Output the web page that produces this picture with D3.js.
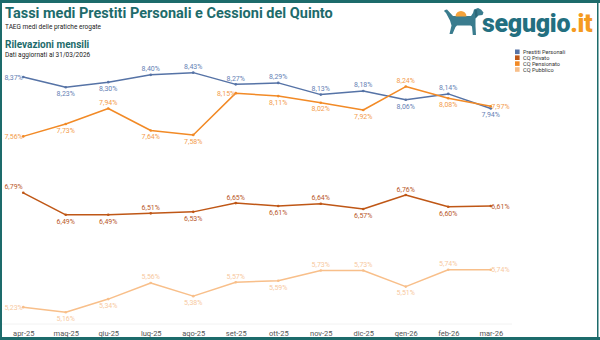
<!DOCTYPE html>
<html>
<head>
<meta charset="utf-8">
<script src="https://d3js.org/d3.v7.min.js"></script>
<style>
  body { margin: 0; background: #fff; }
  svg { display: block; font-family: Roboto, "Noto Sans", sans-serif; }
</style>
</head>
<body>
<svg id="chart" width="600" height="340"></svg>
<script>
// monthly averages (TAEG %)
const months = ['apr-25','mag-25','giu-25','lug-25','ago-25','set-25','ott-25','nov-25','dic-25','gen-26','feb-26','mar-26'];
const prestitiPersonali = [8.37, 8.23, 8.30, 8.40, 8.43, 8.27, 8.29, 8.13, 8.18, 8.06, 8.14, 7.94];
const cqPrivato = [6.79, 6.49, 6.49, 6.51, 6.53, 6.65, 6.61, 6.64, 6.57, 6.76, 6.60, 6.61];
const cqPensionato = [7.56, 7.73, 7.94, 7.64, 7.58, 8.15, 8.11, 8.02, 7.92, 8.24, 8.08, 7.97];
const cqPubblico = [5.23, 5.16, 5.34, 5.56, 5.38, 5.57, 5.59, 5.73, 5.73, 5.51, 5.74, 5.74];
const seriesNames = ['Prestiti Personali', 'CQ Privato', 'CQ Pensionato', 'CQ Pubblico'];

// where each value label sits: l = left, r = right, a = above, b = below, al = above-left
const labelPlace = {
  'Prestiti Personali': ['l','b','b','a','a','a','a','a','a','b','a','b'],
  'CQ Privato':         ['al','b','b','a','b','a','b','a','b','a','b','r'],
  'CQ Pensionato':      ['l','b','a','b','b','l','b','b','b','a','b','r'],
  'CQ Pubblico':        ['l','b','b','a','b','a','b','a','a','b','a','r']
};

const lineColor = {
  'Prestiti Personali': '#5673a6',
  'CQ Privato': '#bf5716',
  'CQ Pensionato': '#f28a26',
  'CQ Pubblico': '#f8bf8a'
};
const textColor = {
  'Prestiti Personali': '#6682b5',
  'CQ Privato': '#b9582a',
  'CQ Pensionato': '#f39c4c',
  'CQ Pubblico': '#f7c9a0'
};

const series = [
  { name: 'Prestiti Personali', values: prestitiPersonali },
  { name: 'CQ Privato', values: cqPrivato },
  { name: 'CQ Pensionato', values: cqPensionato },
  { name: 'CQ Pubblico', values: cqPubblico }
];

const svg = d3.select('#chart');
const teal = '#1d6b6b';

svg.append('rect').attr('width', 600).attr('height', 340).attr('fill', '#fff');

// header
svg.append('text').attr('x', 5).attr('y', 18)
  .attr('font-size', 14.5).attr('font-weight', 700).attr('fill', teal)
  .text('Tassi medi Prestiti Personali e Cessioni del Quinto');
svg.append('text').attr('x', 5).attr('y', 28.5)
  .attr('font-size', 6.5).attr('fill', '#222')
  .text('TAEG medi delle pratiche erogate');
svg.append('text').attr('x', 5).attr('y', 48)
  .attr('font-size', 10).attr('font-weight', 700).attr('fill', teal)
  .text('Rilevazioni mensili');
svg.append('text').attr('x', 5).attr('y', 56.5)
  .attr('font-size', 6.5).attr('fill', '#222')
  .text('Dati aggiornati al 31/03/2026');

// logo
const logo = svg.append('g').attr('transform', 'translate(444,8)');
logo.append('path').attr('fill', '#3a7c8e')
  .attr('d', 'M1,2 L3,1.5 L9,8 L27,8 L29,5 L30,1.5 L34,0 L37,1.5 L39.5,4.5 L38.5,7 L34.5,7.5 L31.5,10.5 L31.5,18 L32,27 L28.8,27 L28,18.5 L26.5,17.5 L13,17.5 L11.5,19 L8.5,26 L5.5,26 L7.5,17.5 L6,12.5 L2,5 L0,3 Z');
logo.append('path').attr('fill', '#2b6778')
  .attr('d', 'M30.5,2 L33,2 L33.5,7.5 L31.5,10 Z');
logo.append('path').attr('fill', '#f4a23a')
  .attr('d', 'M11.5,8.5 A5.5,5.5 0 0 1 22.5,8.5 Z');
const logoText = svg.append('text').attr('x', 482).attr('y', 32)
  .attr('font-size', 25).attr('font-weight', 900).attr('fill', '#236f80')
  .attr('letter-spacing', -0.3);
logoText.append('tspan').text('segugio');
logoText.append('tspan').attr('fill', '#f59b1f').text('.it');

// scales
const x = d3.scalePoint().domain(months).range([2, 512]).padding(0.5);
const y = d3.scaleLinear().domain([5, 8.5]).range([324, 67.5]);

// baseline + month axis
svg.append('line').attr('x1', 2).attr('x2', 512)
  .attr('y1', y(5)).attr('y2', y(5))
  .attr('stroke', '#efefef').attr('stroke-width', 0.8);

const xAxis = svg.append('g').attr('transform', `translate(0,${y(5)})`)
  .call(d3.axisBottom(x).tickSize(0).tickPadding(7));
xAxis.select('.domain').remove();
xAxis.selectAll('text').attr('font-size', 7.5).attr('fill', '#555')
  .attr('font-family', 'Roboto, sans-serif');

// lines
const line = d3.line()
  .x((d, i) => x(months[i]))
  .y(d => y(d));

const g = svg.append('g');
series.forEach(s => {
  g.append('path').datum(s.values)
    .attr('fill', 'none')
    .attr('stroke', lineColor[s.name])
    .attr('stroke-width', 1.5)
    .attr('stroke-linejoin', 'round')
    .attr('d', line);
  g.selectAll(null).data(s.values).enter().append('circle')
    .attr('cx', (d, i) => x(months[i]))
    .attr('cy', d => y(d))
    .attr('r', 1.3)
    .attr('fill', lineColor[s.name]);
});

// value labels
const fmt = v => d3.format('.2f')(v).replace('.', ',') + '%';
series.forEach(s => {
  s.values.forEach((v, i) => {
    const px = x(months[i]), py = y(v);
    const p = labelPlace[s.name][i];
    const t = svg.append('text')
      .attr('font-size', 7)
      .attr('fill', textColor[s.name])
      .text(fmt(v));
    if (p === 'a') t.attr('x', px).attr('y', py - 3.5).attr('text-anchor', 'middle');
    else if (p === 'b') t.attr('x', px).attr('y', py + 8.8).attr('text-anchor', 'middle');
    else if (p === 'l') t.attr('x', px - 0.5).attr('y', py + 2.5).attr('text-anchor', 'end');
    else if (p === 'al') t.attr('x', px - 0.5).attr('y', py - 3.5).attr('text-anchor', 'end');
    else t.attr('x', px + 0.5).attr('y', py + 2.5).attr('text-anchor', 'start');
  });
});

// legend
const legend = svg.append('g').attr('transform', 'translate(515,49.5)');
seriesNames.forEach((n, i) => {
  const row = legend.append('g').attr('transform', `translate(0,${i * 5.9})`);
  row.append('rect').attr('width', 4.6).attr('height', 4.6).attr('fill', lineColor[n]);
  row.append('text').attr('x', 8).attr('y', 4.3)
    .attr('font-size', 5.6).attr('fill', '#333').text(n);
});

// frame
svg.append('rect').attr('x', 0).attr('y', 0).attr('width', 600).attr('height', 3).attr('fill', teal);
svg.append('rect').attr('x', 0).attr('y', 0).attr('width', 2).attr('height', 340).attr('fill', teal);
svg.append('rect').attr('x', 597).attr('y', 0).attr('width', 1.5).attr('height', 340).attr('fill', teal);
svg.append('rect').attr('x', 0).attr('y', 337).attr('width', 600).attr('height', 3).attr('fill', teal);
</script>
</body>
</html>
